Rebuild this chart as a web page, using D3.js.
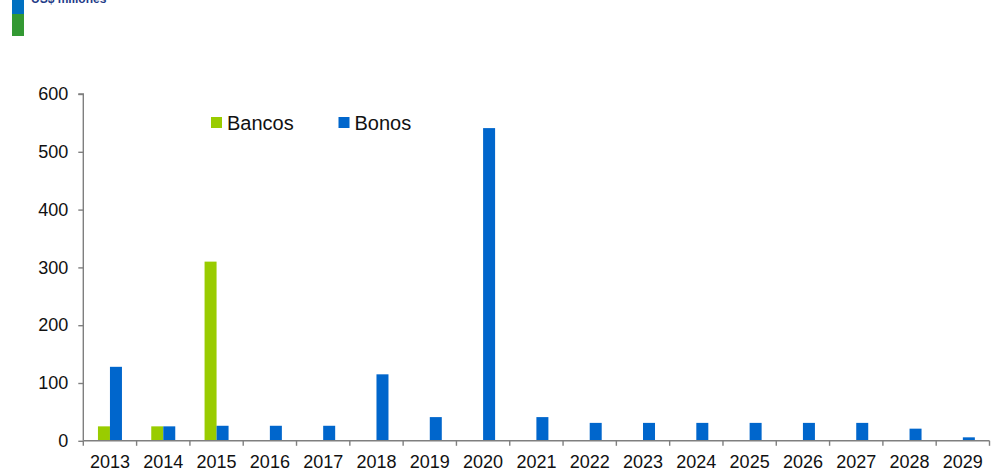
<!DOCTYPE html>
<html lang="en">
<head>
    <meta charset="utf-8">
    <script type="text/javascript" src="https://d3js.org/d3.v7.min.js"></script>
    <title>Bancos y Bonos</title>
    <style>
        html, body {
            margin: 0;
            padding: 0;
            background: white;
        }
        svg text {
            font-family: "Liberation Sans", Arial, sans-serif;
        }
    </style>
</head>
<body>
    <div id="chart"></div>

    <script type="text/javascript">

        // Data (US$ millones)
        const years  = ["2013", "2014", "2015", "2016", "2017", "2018", "2019", "2020", "2021",
                        "2022", "2023", "2024", "2025", "2026", "2027", "2028", "2029"];
        const bancos = [25, 25, 310, 0, 0, 0, 0, 0, 0, 0, 0, 0, 0, 0, 0, 0, 0];
        const bonos  = [128, 25, 26, 26, 26, 115, 41, 541, 41, 31, 31, 31, 31, 31, 31, 21, 6];
        const seriesNames = ["Bancos", "Bonos"];
        const yTicks = [0, 100, 200, 300, 400, 500, 600];

        const colors = {Bancos: "#99cc00", Bonos: "#0066cc"};

        const W = 1003, H = 473;
        const svg = d3.select("#chart")
            .append("svg")
                .attr("width", W)
                .attr("height", H);

        // Little header block in the top left corner (cut off at the top, as in the source)
        svg.append("rect").attr("x", 12).attr("y", 0).attr("width", 12).attr("height", 14).attr("fill", "#0070c0");
        svg.append("rect").attr("x", 12).attr("y", 14).attr("width", 12).attr("height", 22).attr("fill", "#339933");
        svg.append("text")
            .attr("x", 31).attr("y", 2.5)
            .style("font-size", "12px")
            .style("font-weight", "bold")
            .attr("fill", "#1f3c88")
            .text("US$ millones");

        // Scales
        const x = d3.scaleBand()
            .domain(years)
            .range([83.3, 989.5])
            .padding(0);

        const half = 12;
        const xSub = d3.scaleBand()
            .domain(seriesNames)
            .range([x.bandwidth() / 2 - half, x.bandwidth() / 2 + half])
            .padding(0);

        const y = d3.scaleLinear()
            .domain([0, 600])
            .range([440.8, 94]);

        // Table built from the arrays
        const table = years.map((yr, i) => ({year: yr, Bancos: bancos[i], Bonos: bonos[i]}));

        // Bars
        const groups = svg.append("g")
            .selectAll("g")
            .data(table)
            .join("g")
                .attr("transform", d => `translate(${x(d.year)},0)`);

        groups.selectAll("rect")
            .data(d => seriesNames.map(k => ({key: k, value: d[k]})).filter(e => e.value > 0))
            .join("rect")
                .attr("x", d => xSub(d.key))
                .attr("y", d => y(d.value))
                .attr("width", xSub.bandwidth())
                .attr("height", d => y(0) - y(d.value))
                .attr("fill", d => colors[d.key]);

        // Y axis
        const yAxis = svg.append("g")
            .attr("transform", `translate(${x.range()[0]},0)`)
            .call(d3.axisLeft(y).tickValues(yTicks).tickSize(5).tickPadding(10).tickFormat(d3.format("d")));
        yAxis.selectAll("text").style("font-size", "18px").attr("fill", "#111");

        // X axis, ticks on the band boundaries
        const xAxis = svg.append("g")
            .attr("transform", `translate(0,${y(0)})`)
            .call(d3.axisBottom(x).tickSize(0).tickPadding(14));
        xAxis.selectAll("text").style("font-size", "18px").attr("fill", "#111");
        xAxis.selectAll(".tick line").remove();
        xAxis.selectAll("line.sep")
            .data(years.concat(["end"]))
            .join("line")
                .attr("class", "sep")
                .attr("x1", (d, i) => x.range()[0] + i * x.bandwidth())
                .attr("x2", (d, i) => x.range()[0] + i * x.bandwidth())
                .attr("y1", 0)
                .attr("y2", 5);

        svg.selectAll(".domain, .tick line, line.sep")
            .attr("stroke", "#7f7f7f")
            .attr("stroke-width", 1.4);
        yAxis.select(".domain").attr("d", `M-5,${y(600)}H0V${y(0)}`);
        xAxis.select(".domain").attr("d", `M${x.range()[0]},0H${x.range()[1]}`);

        // Legend
        const legend = svg.append("g");
        const legendX = [211, 338.5];
        seriesNames.forEach((name, i) => {
            legend.append("rect")
                .attr("x", legendX[i]).attr("y", 117)
                .attr("width", 11).attr("height", 11)
                .attr("fill", colors[name]);
            legend.append("text")
                .attr("x", legendX[i] + 16).attr("y", 129.5)
                .style("font-size", "20px")
                .attr("fill", "#111")
                .text(name);
        });

    </script>
</body>
</html>
